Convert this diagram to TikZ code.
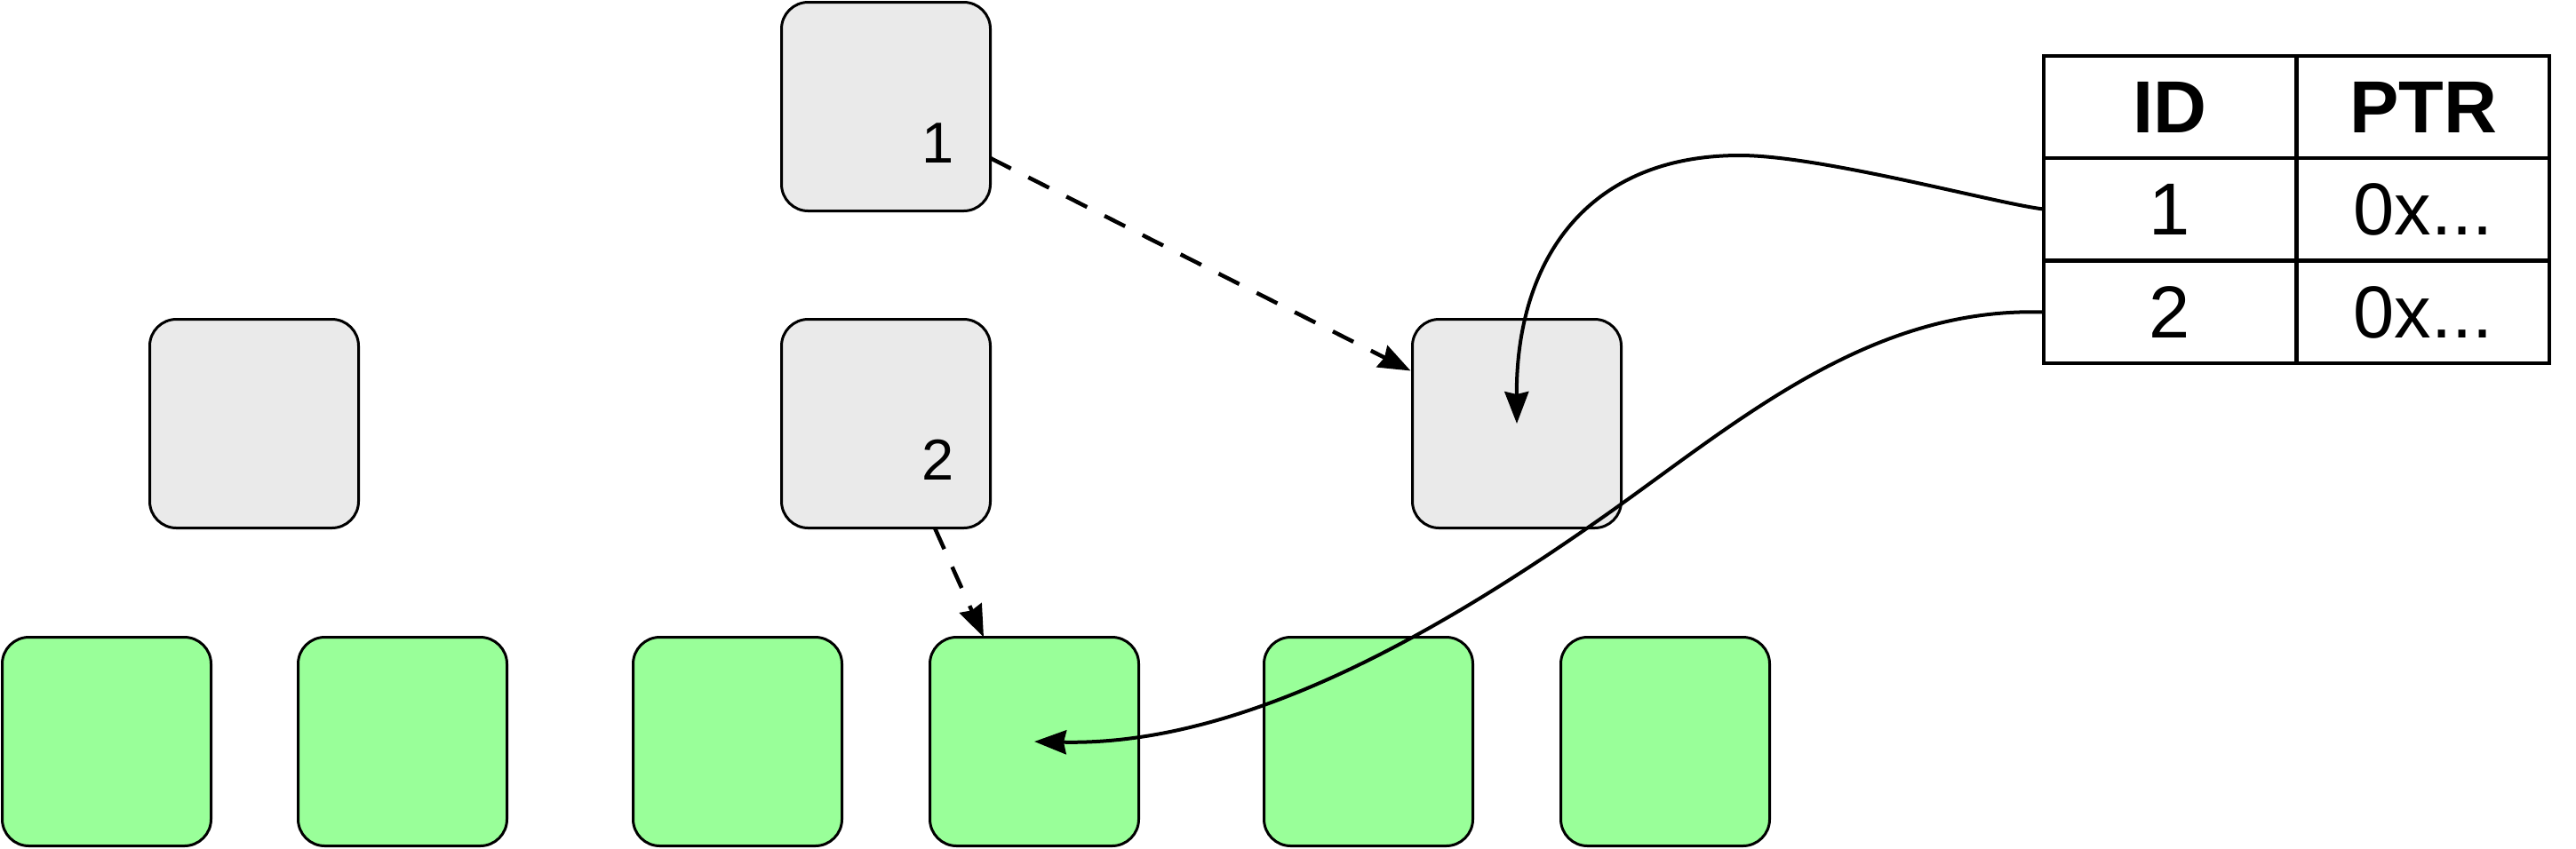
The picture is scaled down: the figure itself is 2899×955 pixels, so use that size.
\documentclass[tikz,border=0pt]{standalone}
\usepackage{fontspec}
\setmainfont{Liberation Sans}
\usetikzlibrary{arrows.meta}
\definecolor{boxgray}{HTML}{EAEAEA}
\definecolor{boxgreen}{HTML}{99FF99}
\tikzset{
  gbox/.style={draw, line width=1.5pt, rounded corners=15pt, fill=boxgray, minimum width=117.5pt, minimum height=117.5pt, inner sep=0pt, outer sep=0pt},
  grbox/.style={gbox, fill=boxgreen},
  cell/.style={draw, line width=2pt, minimum width=142pt, minimum height=57.5pt, inner sep=0pt, outer sep=0pt, font=\fontsize{41.5}{50}\selectfont},
  lab/.style={inner sep=0pt, font=\fontsize{32.5}{39}\selectfont},
  conn/.style={line width=2pt, -{Stealth[length=18pt,width=13.5pt,inset=1.5pt]}},
  dconn/.style={conn, line width=2.25pt, dash pattern=on 13pt off 11pt},
}
\begin{document}
\begin{tikzpicture}[x=0.5pt,y=-0.5pt]
\useasboundingbox (0,0) rectangle (2899,955);
% gray boxes
\node[gbox] (b1) at (997,120) {};
\node[gbox] (lbox) at (286,477) {};
\node[gbox] (b2) at (997,477) {};
\node[gbox] (rbox) at (1707,477) {};
% green boxes
\node[grbox] (g1) at (120,835) {};
\node[grbox] (g2) at (453,835) {};
\node[grbox] (g3) at (830,835) {};
\node[grbox] (g4) at (1164,835) {};
\node[grbox] (g5) at (1540,835) {};
\node[grbox] (g6) at (1874,835) {};
% labels
\node[lab] (lab1) at (1056,161) {1};
\node[lab] (lab2) at (1056,518) {2};
% table
\node[cell] (h1) at (2442,120.5) {\bfseries ID};
\node[cell] (h2) at (2727,120.5) {\bfseries PTR};
\node[cell] (c11) at (2442,235.5) {1};
\node[cell] (c12) at (2727,235.5) {0x...};
\node[cell] (c21) at (2442,351.5) {2};
\node[cell] (c22) at (2727,351.5) {0x...};
% connectors
\draw[dconn] ([yshift=-29pt]b1.east) -- ([yshift=-29pt,xshift=-1pt]rbox.north west);
\draw[dconn] ([xshift=27.5pt]b2.south) -- ([xshift=-28.5pt]g4.north);
\draw[conn] (c11.west) .. controls (2250,230) and (2050,175) .. (1958,175)
  .. controls (1780,175) and (1706,300) .. (rbox.center);
\draw[conn] (c21.west) .. controls (2100,345) and (1950,480) .. (1800,585)
  .. controls (1620,711) and (1400,840) .. (g4.center);
\end{tikzpicture}
\end{document}
